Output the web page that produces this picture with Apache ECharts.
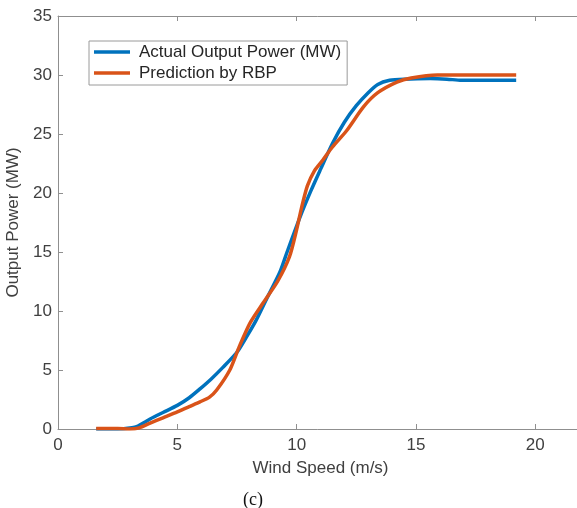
<!DOCTYPE html>
<html>
<head>
<meta charset="utf-8">
<script src="https://cdn.jsdelivr.net/npm/echarts@6/dist/echarts.min.js"></script>
<style>html,body{margin:0;padding:0;background:#fff}#c{width:577px;height:508px}</style>
</head>
<body>
<div id="c"></div>
<script>
const seriesNames = ['Actual Output Power (MW)', 'Prediction by RBP'];
const xTicks = [0, 5, 10, 15, 20];
const yTicks = [0, 5, 10, 15, 20, 25, 30, 35];
const actualPower = [
  [1.6,0],[2.5,0],[3.1,0.1],[3.3,0.2],[3.86,0.85],[4.4,1.4],[5.0,2.0],[5.5,2.65],
  [5.95,3.4],[6.4,4.2],[6.9,5.2],[7.5,6.5],[7.9,7.8],[8.3,9.2],[8.76,11.1],[9.3,13.3],
  [9.6,15.0],[10.15,18.0],[10.6,20.2],[11.0,22.0],[11.5,24.2],[12.0,26.0],[12.5,27.4],
  [13.0,28.5],[13.4,29.2],[13.9,29.55],[14.5,29.65],[15.6,29.7],[16.3,29.65],[16.9,29.55],[19.2,29.55]
];
const predictedPower = [
  [1.6,0.05],[2.5,0.05],[3.0,0],[3.4,0.1],[3.86,0.5],[4.4,0.95],[5.0,1.45],[5.5,1.9],
  [5.95,2.3],[6.35,2.7],[6.65,3.3],[7.2,5.0],[7.6,7.0],[8.05,9.0],[8.6,10.7],[9.2,12.5],
  [9.7,14.6],[10.0,16.9],[10.2,18.7],[10.45,20.6],[10.75,21.9],[11.1,22.8],[11.5,23.9],
  [12.1,25.3],[12.8,27.3],[13.4,28.5],[14.2,29.4],[14.8,29.75],[15.9,30.0],[19.2,30.0]
];

const axisColor = '#8f8f8f';
const labelColor = '#404040';
const font = 'Liberation Sans, Arial, Helvetica, sans-serif';
const chart = echarts.init(document.getElementById('c'), null, {renderer: 'canvas'});
const tickAxisBase = {
  axisLine: {show: true, lineStyle: {color: axisColor, width: 1}},
  axisTick: {show: true, inside: true, length: 5, lineStyle: {color: axisColor}},
  splitLine: {show: false}
};
chart.setOption({
  animation: false,
  backgroundColor: '#fff',
  grid: {left: 58, top: 16, width: 525, height: 413, containLabel: false, outerBoundsMode: 'none'},
  legend: {
    left: 89, top: 41, orient: 'vertical',
    data: seriesNames,
    icon: 'rect', itemWidth: 36, itemHeight: 3.5, itemGap: 1,
    padding: [1, 6, 2, 5],
    borderColor: '#9a9a9a', borderWidth: 1, backgroundColor: '#fff',
    textStyle: {fontFamily: font, fontSize: 17, color: '#262626', lineHeight: 20, padding: [0, 0, 0, 4]}
  },
  xAxis: [
    Object.assign({}, tickAxisBase, {
      type: 'value', min: 0, max: 22, interval: 5, position: 'bottom',
      name: 'Wind Speed (m/s)', nameLocation: 'middle', nameGap: 31,
      nameTextStyle: {fontFamily: font, fontSize: 17, color: labelColor},
      axisLabel: {fontFamily: font, fontSize: 17, color: labelColor, margin: 8,
        formatter: v => xTicks.includes(v) ? String(v) : ''}
    }),
    Object.assign({}, tickAxisBase, {
      type: 'value', min: 0, max: 22, interval: 5, position: 'top',
      axisLabel: {show: false}
    })
  ],
  yAxis: Object.assign({}, tickAxisBase, {
    type: 'value', min: 0, max: 35, interval: 5,
    name: 'Output Power (MW)', nameLocation: 'middle', nameGap: 31,
    nameTextStyle: {fontFamily: font, fontSize: 17, color: labelColor},
    axisLabel: {fontFamily: font, fontSize: 17, color: labelColor, margin: 6,
      formatter: v => yTicks.includes(v) ? String(v) : ''}
  }),
  graphic: [{
    type: 'text', left: 243, top: 491,
    style: {text: '(c)', font: '18px "Liberation Serif", "Times New Roman", serif', fill: '#111'}
  }],
  series: [
    {name: seriesNames[0], type: 'line', data: actualPower, showSymbol: false, smooth: 0.25,
      lineStyle: {color: '#0072BD', width: 3.5}, itemStyle: {color: '#0072BD'}, z: 2},
    {name: seriesNames[1], type: 'line', data: predictedPower, showSymbol: false, smooth: 0.25,
      lineStyle: {color: '#D95319', width: 3.5}, itemStyle: {color: '#D95319'}, z: 3}
  ]
});
</script>
</body>
</html>
